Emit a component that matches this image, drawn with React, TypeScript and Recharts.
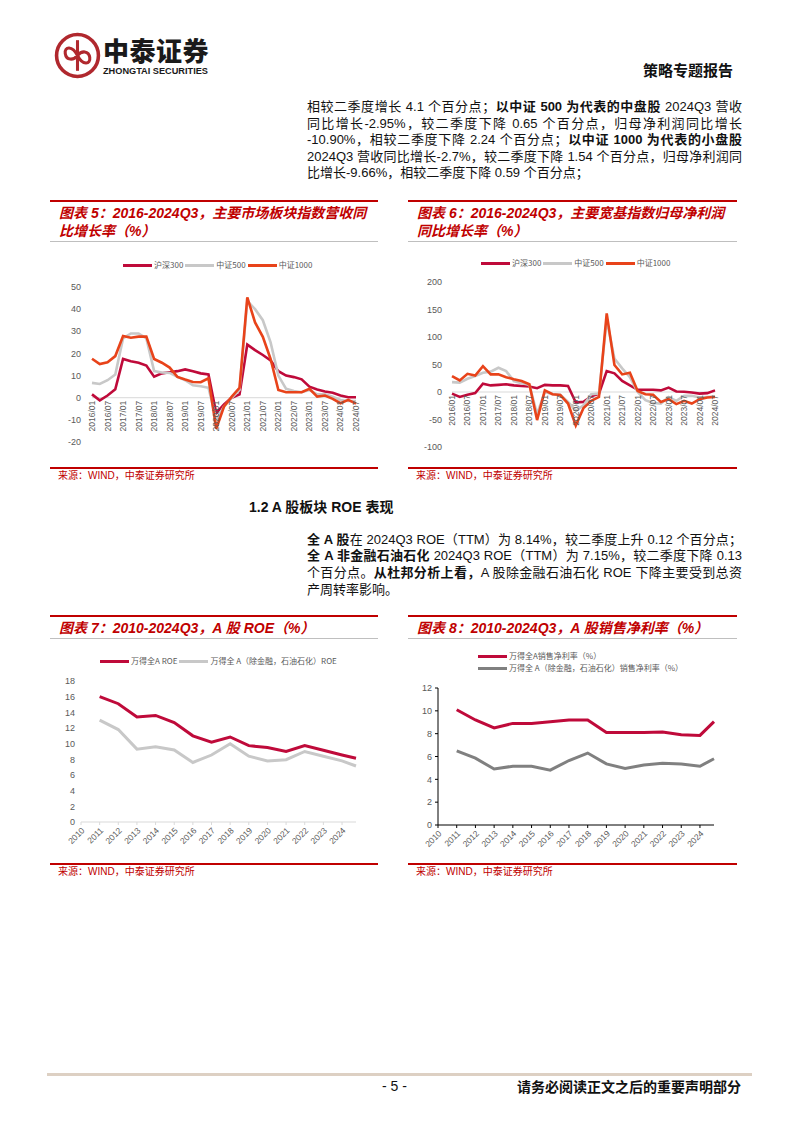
import React from 'react'
import { LineChart, Line, XAxis, YAxis, ReferenceLine } from 'recharts'

// 季度标签 2016Q1 - 2024Q3
const quarters = [
  '2016/01', '2016/04', '2016/07', '2016/10',
  '2017/01', '2017/04', '2017/07', '2017/10',
  '2018/01', '2018/04', '2018/07', '2018/10',
  '2019/01', '2019/04', '2019/07', '2019/10',
  '2020/01', '2020/04', '2020/07', '2020/10',
  '2021/01', '2021/04', '2021/07', '2021/10',
  '2022/01', '2022/04', '2022/07', '2022/10',
  '2023/01', '2023/04', '2023/07', '2023/10',
  '2024/01', '2024/04', '2024/07',
]

// 图表5 营收同比（%）
const hs300Rev = [1.5, -1.2, 1, 3.8, 17.5, 16.5, 15.8, 14.5, 9.5, 11, 11.5, 12, 12.8, 12, 11, 10.5, -7, -3, 0, 1.5, 24, 21.5, 19.3, 16.8, 12, 10, 9.3, 8.3, 5, 3.7, 2.8, 2.2, 1, 0.2, 0.2]
const zz500Rev = [6.7, 6.2, 7.9, 10.5, 26.8, 29, 29, 26.8, 12, 11.4, 11.2, 9.4, 7.9, 5.6, 5.2, 4.5, -10, -4, 0, 3.5, 43.7, 40, 35, 25, 10, 4, 3, 2.5, 3.5, 1.5, 1.5, 0.5, -1, -1.5, -1.5]
const zz1000Rev = [17.6, 15.2, 16, 18.8, 27.9, 27.1, 27.6, 27.6, 17.5, 15.8, 13.6, 9.4, 8.2, 7.1, 7, 8.8, -14, -4, 0.5, 4.5, 45.3, 34, 27.5, 17.5, 3.5, 2.5, 2.5, 2.5, 4, 0.5, 1, -0.5, -2.5, -1, -2.7]

// 图表6 归母净利润同比（%）
const hs300Np = [-3, -9, -5, -2, 15, 12, 13, 14, 12, 11, 10, 7, 13, 12, 12, 11, -19, -18, -8, -3, 38, 34, 20, 12, 4, 4, 4, 3, 8, 1, 0.5, -1, -3, -2, 3]
const zz500Np = [18, 17, 24, 29, 35, 37, 44, 38, 20, 16, 13, -40, 0, -4, -5, -18, -34, -24, -4, -3, 131, 61, 43, 27, 0, -15, -20, -21, -9, -16, -7, -7, -10, -9, -8]
const zz1000Np = [29, 21, 33, 30, 47, 32, 32, 27, 23, 20, 14, -51, 3, -4, -5.5, -21, -61, -29, -16, -9, 143, 49, 32, 35, 2, -4, -5, -18, -13, -22, -16, -21, -13, -10, -9]

// 图表7/8 年度：年末点落在下一年刻度上，2024Q3 落在 3/4 处
const yearTicks = [2010, 2011, 2012, 2013, 2014, 2015, 2016, 2017, 2018, 2019, 2020, 2021, 2022, 2023, 2024]
const periodX = [2011, 2012, 2013, 2014, 2015, 2016, 2017, 2018, 2019, 2020, 2021, 2022, 2023, 2024, 2024.75]
const roeAll = [16.0, 15.1, 13.4, 13.6, 12.7, 11.0, 10.2, 10.85, 9.75, 9.5, 9.0, 9.75, 9.15, 8.55, 8.14]
const roeExFin = [13.0, 11.8, 9.3, 9.6, 9.2, 7.6, 8.55, 10.0, 8.4, 7.8, 7.95, 9.0, 8.4, 7.8, 7.15]
const npmAll = [10.1, 9.2, 8.5, 8.9, 8.9, 9.05, 9.2, 9.2, 8.1, 8.1, 8.1, 8.15, 7.9, 7.85, 9.05]
const npmExFin = [6.5, 5.85, 4.9, 5.15, 5.15, 4.8, 5.65, 6.3, 5.35, 4.95, 5.25, 5.4, 5.35, 5.15, 5.8]

const revTicks = [-20, -10, 0, 10, 20, 30, 40, 50]
const npTicks = [-100, -50, 0, 50, 100, 150, 200]
const roeTicks = [0, 2, 4, 6, 8, 10, 12, 14, 16, 18]
const npmTicks = [0, 2, 4, 6, 8, 10, 12]

const revData = quarters.map((q, i) => ({ q, hs300: hs300Rev[i], zz500: zz500Rev[i], zz1000: zz1000Rev[i] }))
const npData = quarters.map((q, i) => ({ q, hs300: hs300Np[i], zz500: zz500Np[i], zz1000: zz1000Np[i] }))
const roeData = periodX.map((x, i) => ({ x, all: roeAll[i], exFin: roeExFin[i] }))
const npmData = periodX.map((x, i) => ({ x, all: npmAll[i], exFin: npmExFin[i] }))

const CRIMSON = '#BF0A3A'
const ORANGE = '#E8431A'
const LIGHT = '#C8C8C8'
const DARK = '#808080'
const RED = '#C00000'
const AXIS_TXT = '#595959'
const SANS = '"Liberation Sans", "Noto Sans CJK SC", sans-serif'
const CJK = '"Noto Sans CJK SC", sans-serif'

// x 轴标签画在 0 线下方
function QuarterTick(props: any) {
  const { x, y, payload, lift } = props
  return (
    <text
      transform={`translate(${x},${y - lift + 3}) rotate(-90)`}
      textAnchor="end"
      dominantBaseline="central"
      fontSize={8.5}
      fill={AXIS_TXT}
      fontFamily={SANS}
    >
      {payload.value}
    </text>
  )
}

function YearTick(props: any) {
  const { x, y, payload } = props
  return (
    <text
      transform={`translate(${x + 2},${y + 2}) rotate(-45)`}
      textAnchor="end"
      dominantBaseline="central"
      fontSize={8.5}
      fill={AXIS_TXT}
      fontFamily={SANS}
    >
      {payload.value}
    </text>
  )
}

function Legend({ items, left, top }: { items: { name: string; color: string }[]; left: number; top: number }) {
  return (
    <div style={{ position: 'absolute', left, top, display: 'flex', alignItems: 'center', fontFamily: CJK, fontSize: 8, color: AXIS_TXT, whiteSpace: 'nowrap', lineHeight: '12px' }}>
      {items.map((it) => (
        <span key={it.name} style={{ display: 'flex', alignItems: 'center' }}>
          <span style={{ display: 'inline-block', width: 29, height: 3, background: it.color, marginRight: 2 }} />
          <span style={{ marginRight: 2 }}>{it.name}</span>
        </span>
      ))}
    </div>
  )
}

function FigHeader({ left, top, width, lines }: { left: number; top: number; width: number; lines: string[] }) {
  return (
    <div style={{ position: 'absolute', left, top, width }}>
      <div style={{ height: 2, background: RED }} />
      <div style={{ padding: '2px 0 1px 9px', fontFamily: SANS, fontSize: 14, fontWeight: 'bold', fontStyle: 'italic', color: RED, lineHeight: '18px' }}>
        {lines.map((l) => (
          <div key={l}>{l}</div>
        ))}
      </div>
      <div style={{ height: 1, background: '#BFBFBF' }} />
    </div>
  )
}

function Source({ left, top, width }: { left: number; top: number; width: number }) {
  return (
    <div style={{ position: 'absolute', left, top, width }}>
      <div style={{ height: 1.5, background: RED }} />
      <div style={{ paddingLeft: 8, fontFamily: SANS, fontSize: 10, color: RED, lineHeight: '14px' }}>来源：WIND，中泰证券研究所</div>
    </div>
  )
}

function TextLine({ top, last, children }: { top: number; last?: boolean; children: React.ReactNode }) {
  return (
    <div
      style={{
        position: 'absolute',
        left: 307,
        top,
        width: 435,
        fontFamily: SANS,
        fontSize: 13,
        lineHeight: '17px',
        color: '#111',
        textAlign: 'justify',
        textAlignLast: last ? 'left' : 'justify',
      }}
    >
      {children}
    </div>
  )
}

const revMargin = { top: 42, right: 24, bottom: 17, left: 12 }
const npMargin = { top: 37, right: 23, bottom: 12, left: 10 }
const CH = 215

export default function App() {
  const revPlotH = CH - revMargin.top - revMargin.bottom - 1
  const npPlotH = CH - npMargin.top - npMargin.bottom - 1
  const revLift = (revPlotH * (0 - revTicks[0])) / (revTicks[revTicks.length - 1] - revTicks[0])
  const npLift = (npPlotH * (0 - npTicks[0])) / (npTicks[npTicks.length - 1] - npTicks[0])

  const idxLegend = [
    { name: '沪深300', color: CRIMSON },
    { name: '中证500', color: LIGHT },
    { name: '中证1000', color: ORANGE },
  ]

  return (
    <div style={{ position: 'absolute', left: 0, top: 0, width: 802, height: 1133, background: '#fff', overflow: 'hidden' }}>
      {/* 页眉 */}
      <svg style={{ position: 'absolute', left: 54, top: 32 }} width={47} height={47} viewBox="0 0 46 46">
        <circle cx={23} cy={23} r={20.5} fill="none" stroke="#B0282E" strokeWidth={3.5} />
        <path d="M23 8 L23 38" stroke="#B0282E" strokeWidth={3} />
        <path d="M23 23 C18 13, 10 14, 11 21 C12 28, 19 28, 23 23 C27 18, 34 18, 35 25 C36 32, 28 33, 23 23" fill="none" stroke="#B0282E" strokeWidth={3} />
      </svg>
      <div style={{ position: 'absolute', left: 103, top: 35, fontFamily: CJK, fontWeight: 900, fontSize: 26, lineHeight: '29px', color: '#1a1a1a', letterSpacing: 0.5 }}>中泰证券</div>
      <div style={{ position: 'absolute', left: 103, top: 66, fontFamily: SANS, fontWeight: 'bold', fontSize: 9.2, lineHeight: '11px', color: '#1a1a1a' }}>ZHONGTAI SECURITIES</div>
      <div style={{ position: 'absolute', left: 643, top: 61, fontFamily: CJK, fontWeight: 'bold', fontSize: 15, lineHeight: '18px', color: '#111' }}>策略专题报告</div>

      {/* 正文一 */}
      <TextLine top={98}>
        相较二季度增长 4.1 个百分点；<b>以中证 500 为代表的中盘股</b> 2024Q3 营收
      </TextLine>
      <TextLine top={114.5}>同比增长-2.95%，较二季度下降 0.65 个百分点，归母净利润同比增长</TextLine>
      <TextLine top={131}>
        -10.90%，相较二季度下降 2.24 个百分点；<b>以中证 1000 为代表的小盘股</b>
      </TextLine>
      <TextLine top={147.5}>2024Q3 营收同比增长-2.7%，较二季度下降 1.54 个百分点，归母净利润同</TextLine>
      <TextLine top={164} last>
        比增长-9.66%，相较二季度下降 0.59 个百分点；
      </TextLine>

      {/* 图表5 */}
      <FigHeader left={50} top={200} width={328} lines={['图表 5：2016-2024Q3，主要市场板块指数营收同', '比增长率（%）']} />
      <Legend items={idxLegend} left={123} top={259} />
      <div style={{ position: 'absolute', left: 50, top: 245 }}>
        <LineChart width={330} height={CH} data={revData} margin={revMargin}>
          <XAxis dataKey="q" interval={1} height={1} tickSize={0} tickMargin={0} axisLine={false} tickLine={false} tick={<QuarterTick lift={revLift} />} />
          <YAxis domain={[revTicks[0], revTicks[revTicks.length - 1]]} ticks={revTicks} width={30} axisLine={false} tickLine={false} tickSize={0} tickMargin={11} tick={{ fontSize: 9, fill: AXIS_TXT, fontFamily: SANS }} />
          <ReferenceLine y={0} stroke="#D9D9D9" />
          <Line type="linear" dataKey="hs300" stroke={CRIMSON} strokeWidth={2.6} dot={false} isAnimationActive={false} />
          <Line type="linear" dataKey="zz500" stroke={LIGHT} strokeWidth={2.6} dot={false} isAnimationActive={false} />
          <Line type="linear" dataKey="zz1000" stroke={ORANGE} strokeWidth={2.6} dot={false} isAnimationActive={false} />
        </LineChart>
      </div>
      <Source left={50} top={467} width={328} />

      {/* 图表6 */}
      <FigHeader left={408} top={200} width={329} lines={['图表 6：2016-2024Q3，主要宽基指数归母净利润', '同比增长率（%）']} />
      <Legend items={idxLegend} left={481} top={257} />
      <div style={{ position: 'absolute', left: 408, top: 245 }}>
        <LineChart width={330} height={CH} data={npData} margin={npMargin}>
          <XAxis dataKey="q" interval={1} height={1} tickSize={0} tickMargin={0} axisLine={false} tickLine={false} tick={<QuarterTick lift={npLift} />} />
          <YAxis domain={[npTicks[0], npTicks[npTicks.length - 1]]} ticks={npTicks} width={34} axisLine={false} tickLine={false} tickSize={0} tickMargin={10} tick={{ fontSize: 9, fill: AXIS_TXT, fontFamily: SANS }} />
          <ReferenceLine y={0} stroke="#D9D9D9" />
          <Line type="linear" dataKey="hs300" stroke={CRIMSON} strokeWidth={2.6} dot={false} isAnimationActive={false} />
          <Line type="linear" dataKey="zz500" stroke={LIGHT} strokeWidth={2.6} dot={false} isAnimationActive={false} />
          <Line type="linear" dataKey="zz1000" stroke={ORANGE} strokeWidth={2.6} dot={false} isAnimationActive={false} />
        </LineChart>
      </div>
      <Source left={408} top={467} width={329} />

      {/* 1.2 */}
      <div style={{ position: 'absolute', left: 249, top: 498, fontFamily: SANS, fontWeight: 'bold', fontSize: 14, lineHeight: '18px', color: '#111' }}>1.2 A 股板块 ROE 表现</div>
      <TextLine top={530.5}>
        <b>全 A 股</b>在 2024Q3 ROE（TTM）为 8.14%，较二季度上升 0.12 个百分点；
      </TextLine>
      <TextLine top={547}>
        <b>全 A 非金融石油石化</b> 2024Q3 ROE（TTM）为 7.15%，较二季度下降 0.13
      </TextLine>
      <TextLine top={564}>
        个百分点。<b>从杜邦分析上看，</b>A 股除金融石油石化 ROE 下降主要受到总资
      </TextLine>
      <TextLine top={581} last>
        产周转率影响。
      </TextLine>

      {/* 图表7 */}
      <FigHeader left={50} top={615} width={328} lines={['图表 7：2010-2024Q3，A 股 ROE（%）']} />
      <Legend
        items={[
          { name: '万得全A ROE', color: CRIMSON },
          { name: '万得全 A（除金融，石油石化）ROE', color: LIGHT },
        ]}
        left={100}
        top={655}
      />
      <div style={{ position: 'absolute', left: 50, top: 645 }}>
        <LineChart width={330} height={CH} data={roeData} margin={{ top: 36, right: 24, bottom: 8, left: 3 }}>
          <XAxis type="number" dataKey="x" domain={[yearTicks[0], periodX[periodX.length - 1]]} ticks={yearTicks} interval={0} height={30} tickSize={3} tickMargin={2} axisLine={{ stroke: '#D9D9D9' }} tickLine={{ stroke: '#D9D9D9' }} tick={<YearTick />} />
          <YAxis domain={[roeTicks[0], roeTicks[roeTicks.length - 1]]} ticks={roeTicks} width={28} axisLine={false} tickLine={false} tickSize={0} tickMargin={6} tick={{ fontSize: 9, fill: AXIS_TXT, fontFamily: SANS }} />
          <Line type="linear" dataKey="all" stroke={CRIMSON} strokeWidth={3} dot={false} isAnimationActive={false} />
          <Line type="linear" dataKey="exFin" stroke={LIGHT} strokeWidth={3} dot={false} isAnimationActive={false} />
        </LineChart>
      </div>
      <Source left={50} top={863} width={328} />

      {/* 图表8 */}
      <FigHeader left={408} top={615} width={329} lines={['图表 8：2010-2024Q3，A 股销售净利率（%）']} />
      <Legend items={[{ name: '万得全A销售净利率（%）', color: CRIMSON }]} left={478} top={650} />
      <Legend items={[{ name: '万得全 A（除金融，石油石化）销售净利率（%）', color: DARK }]} left={478} top={662} />
      <div style={{ position: 'absolute', left: 408, top: 645 }}>
        <LineChart width={330} height={CH} data={npmData} margin={{ top: 43, right: 24, bottom: 5, left: 2 }}>
          <XAxis type="number" dataKey="x" domain={[yearTicks[0], periodX[periodX.length - 1]]} ticks={yearTicks} interval={0} height={30} tickSize={3} tickMargin={2} axisLine={{ stroke: '#000' }} tickLine={{ stroke: '#000' }} tick={<YearTick />} />
          <YAxis domain={[npmTicks[0], npmTicks[npmTicks.length - 1]]} ticks={npmTicks} width={28} axisLine={{ stroke: '#000' }} tickLine={{ stroke: '#000' }} tickSize={3} tickMargin={3} tick={{ fontSize: 9, fill: AXIS_TXT, fontFamily: SANS }} />
          <Line type="linear" dataKey="all" stroke={CRIMSON} strokeWidth={3} dot={false} isAnimationActive={false} />
          <Line type="linear" dataKey="exFin" stroke={DARK} strokeWidth={3} dot={false} isAnimationActive={false} />
        </LineChart>
      </div>
      <Source left={408} top={863} width={329} />

      {/* 页脚 */}
      <div style={{ position: 'absolute', left: 47, top: 1073, width: 705, height: 3, background: '#DDD0C3' }} />
      <div style={{ position: 'absolute', left: 382, top: 1077, fontFamily: SANS, fontSize: 14, lineHeight: '18px', color: '#111' }}>- 5 -</div>
      <div style={{ position: 'absolute', left: 517, top: 1077, fontFamily: CJK, fontWeight: 'bold', fontSize: 14, lineHeight: '18px', color: '#111' }}>请务必阅读正文之后的重要声明部分</div>
    </div>
  )
}
